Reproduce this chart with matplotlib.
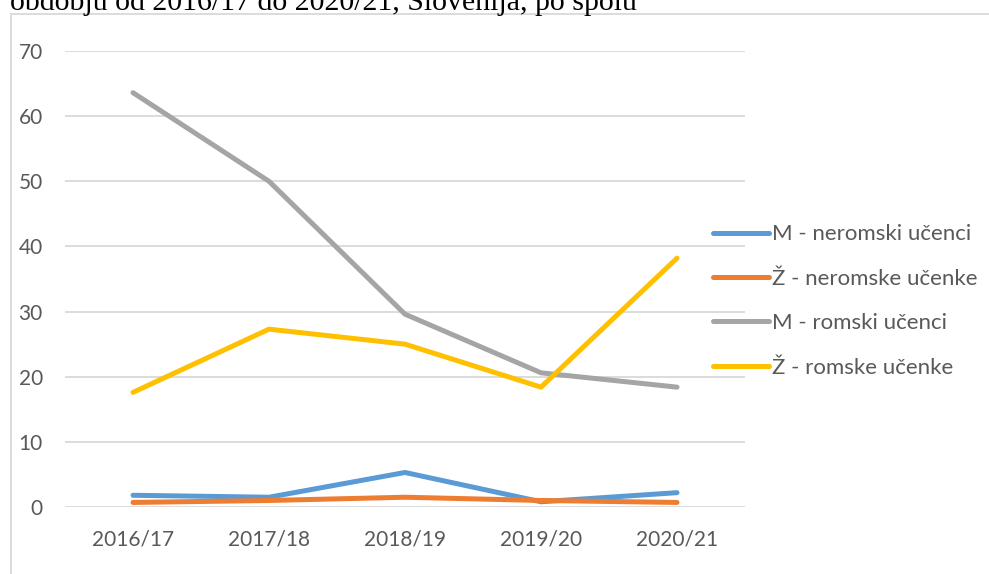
import matplotlib
matplotlib.use('Agg')
import matplotlib.pyplot as plt
from matplotlib.patches import Rectangle

years = ['2016/17', '2017/18', '2018/19', '2019/20', '2020/21']
m_neromski = [1.8, 1.5, 5.3, 0.8, 2.2]
z_neromske = [0.7, 1.0, 1.5, 1.0, 0.7]
m_romski = [63.6, 50.0, 29.6, 20.6, 18.4]
z_romske = [17.6, 27.3, 25.0, 18.4, 38.2]

series = [
	('M - neromski učenci', m_neromski, '#5b9bd5'),
	('Ž - neromske učenke', z_neromske, '#ed7d31'),
	('M - romski učenci', m_romski, '#a5a5a5'),
	('Ž - romske učenke', z_romske, '#ffc000'),
]

W, H = 989, 574
fig = plt.figure(figsize=(W / 100, H / 100), dpi=100)

# chart frame (cut off by the page)
fig.patches.append(Rectangle((11 / W, -0.1), 1.1, 1.1 - 14 / H, transform=fig.transFigure,
							 fill=False, edgecolor='#d9d9d9', linewidth=1.3))
fig.text(10 / W, 1 - 9.5 / H, 'obdobju od 2016/17 do 2020/21, Slovenija, po spolu',
		 family='Liberation Serif', fontsize=21.5, va='baseline', ha='left', color='black')

ax = fig.add_axes([65 / W, 1 - 507 / H, 680 / W, 456 / H])
x = list(range(len(years)))
for label, vals, col in series:
	ax.plot(x, vals, color=col, linewidth=3.6, label=label, solid_capstyle='round')

ax.set_xlim(-0.5, 4.5)
ax.set_ylim(0, 70)
ax.set_yticks(range(0, 71, 10))
ax.set_xticks(x)
ax.set_xticklabels(years)
ax.grid(axis='y', color='#d9d9d9', linewidth=1.3)
ax.set_axisbelow(True)
for s in ax.spines.values():
	s.set_visible(False)
ax.tick_params(length=0, labelsize=15, labelcolor='#595959')
ax.tick_params(axis='y', pad=16)
ax.tick_params(axis='x', pad=16)
for t in ax.get_xticklabels() + ax.get_yticklabels():
	t.set_family('Lato')

leg = fig.legend(loc='center left', bbox_to_anchor=(713 / W, 1 - 301 / H), frameon=False,
				 borderpad=0, borderaxespad=0, handlelength=2.5, handletextpad=0.15,
				 labelspacing=1.1, prop={'family': 'Lato', 'size': 16})
for t in leg.get_texts():
	t.set_color('#595959')

fig.savefig('out.png', dpi=100)
